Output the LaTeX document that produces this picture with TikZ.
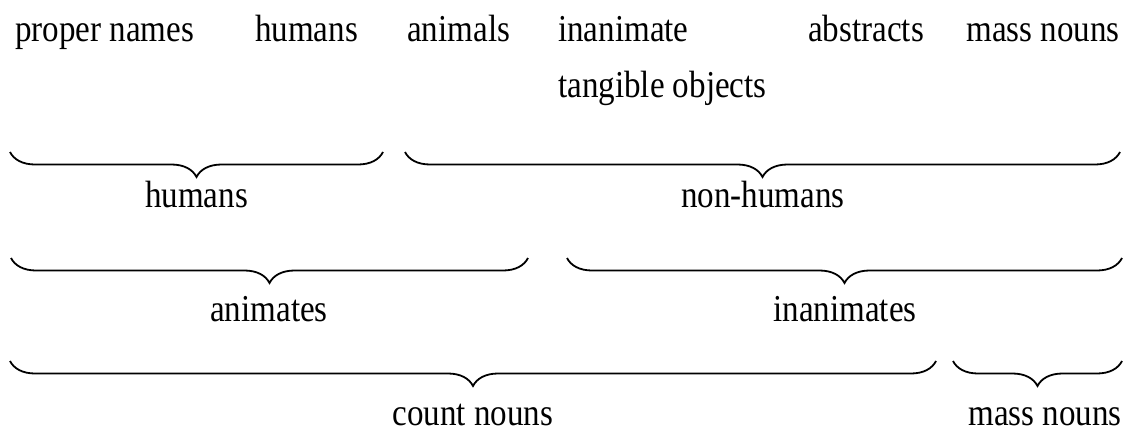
\documentclass[tikz,border=0pt]{standalone}
\usepackage{fontspec}
\setmainfont{Liberation Serif}[FakeStretch=0.87]
\usetikzlibrary{decorations.pathreplacing}
\begin{document}
\begin{tikzpicture}[x=1pt,y=1pt,
  lbl/.style={inner sep=0pt, font=\fontsize{38}{45}\selectfont},
  ubrace/.style={decorate, decoration={brace, mirror, amplitude=25pt}, line width=1.8pt}]
\useasboundingbox (0,0) rectangle (1124,-434);
% top row
\node[lbl, anchor=base west] (pn) at (15,-41) {proper names};
\node[lbl, anchor=base west] (hu) at (255,-41) {humans};
\node[lbl, anchor=base west] (an) at (407,-41) {animals};
\node[lbl, anchor=base west] (in) at (558,-41) {inanimate};
\node[lbl, anchor=base west] (ab) at (808,-41) {abstracts};
\node[lbl, anchor=base east] (mn) at (1120,-41) {mass nouns};
\node[lbl, anchor=base west] (to) at (558,-97) {tangible objects};
% row 1 braces
\coordinate (r1a) at (10,-152);  \coordinate (r1b) at (383,-152);
\coordinate (r1c) at (405,-152); \coordinate (r1d) at (1120,-152);
\draw[ubrace] (r1a) -- (r1b);
\draw[ubrace] (r1c) -- (r1d);
\node[lbl, anchor=base] (lh) at (196.5,-207) {humans};
\node[lbl, anchor=base] (lnh) at (763,-207) {non-humans};
% row 2 braces
\coordinate (r2a) at (11,-258);  \coordinate (r2b) at (528,-258);
\coordinate (r2c) at (567,-258); \coordinate (r2d) at (1122,-258);
\draw[ubrace] (r2a) -- (r2b);
\draw[ubrace] (r2c) -- (r2d);
\node[lbl, anchor=base] (la) at (269,-321) {animates};
\node[lbl, anchor=base] (li) at (845,-321) {inanimates};
% row 3 braces
\coordinate (r3a) at (10,-361);  \coordinate (r3b) at (936,-361);
\coordinate (r3c) at (953,-361); \coordinate (r3d) at (1122,-361);
\draw[ubrace] (r3a) -- (r3b);
\draw[ubrace] (r3c) -- (r3d);
\node[lbl, anchor=base] (lc) at (473,-425) {count nouns};
\node[lbl, anchor=base] (lm) at (1045,-425) {mass nouns};
\end{tikzpicture}
\end{document}
